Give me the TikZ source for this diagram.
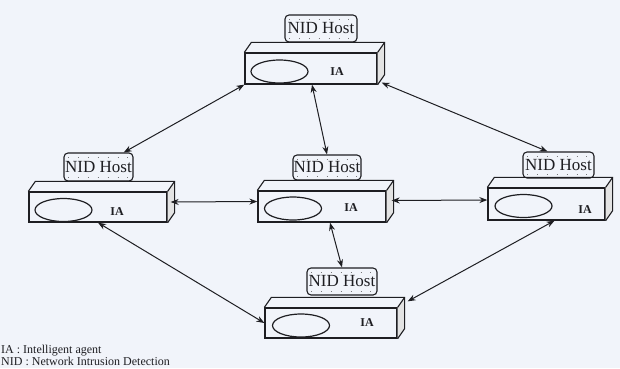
\documentclass[tikz,border=0pt]{standalone}
\usepackage{fontspec}
\setmainfont{Liberation Serif}
\usetikzlibrary{arrows.meta,shapes.geometric}

\definecolor{paper}{RGB}{241,244,250}
\definecolor{ink}{RGB}{30,30,34}

\tikzset{
  host/.style={draw=ink,line width=1.3pt,rectangle,inner sep=0pt},
  face/.style={draw=ink,line width=1.1pt},
  side/.style={fill=gray!22},
  oval/.style={draw=ink,line width=1.2pt,ellipse,minimum width=57pt,minimum height=23pt,inner sep=0pt},
  ia/.style={font=\fontsize{12}{12}\selectfont\bfseries,text=ink},
  nid/.style={draw=ink,line width=1.1pt,rounded corners=4pt,inner sep=0pt,
    font=\fontsize{17}{17}\selectfont,text=ink,
    path picture={
      \draw[ink!60,line width=0.9pt,dash pattern=on 0.9pt off 9pt]
        ([shift={(4pt,-4pt)}]path picture bounding box.north west) --
        ([shift={(-4pt,-4pt)}]path picture bounding box.north east);
      \draw[ink!60,line width=0.9pt,dash pattern=on 0.9pt off 9pt]
        ([shift={(4pt,4pt)}]path picture bounding box.south west) --
        ([shift={(-4pt,4pt)}]path picture bounding box.south east);}},
  link/.style={draw=ink,line width=1pt,{Stealth[length=8pt,width=6pt]}-{Stealth[length=8pt,width=6pt]}}
}

\begin{document}
\begin{tikzpicture}[x=1pt,y=-1pt]
\fill[paper] (0,0) rectangle (620,368);
\useasboundingbox (0,0) rectangle (620,368);

% top host
\node[host,minimum width=132pt,minimum height=31pt] (hostT) at (311,68.5) {};
\fill[side] (hostT.north east) -- ++(7,-10) -- ([shift={(7,-10)}]hostT.south east) -- (hostT.south east) -- cycle;
\draw[face] (hostT.north west) -- ++(7,-10) -| ([shift={(7,-10)}]hostT.south east) -- (hostT.south east);
\draw[face] (hostT.north east) -- ++(7,-10);
\node[oval] (ovT) at (279.5,71.5) {};
\node[ia] (iaT) at (337,72) {IA};
\node[nid,minimum width=72pt,minimum height=27pt] (lblT) at (321,28.5) {NID Host};

% left host
\node[host,minimum width=138pt,minimum height=30pt] (hostL) at (98,207) {};
\fill[side] (hostL.north east) -- ++(7,-10) -- ([shift={(7,-10)}]hostL.south east) -- (hostL.south east) -- cycle;
\draw[face] (hostL.north west) -- ++(7,-10) -| ([shift={(7,-10)}]hostL.south east) -- (hostL.south east);
\draw[face] (hostL.north east) -- ++(7,-10);
\node[oval] (ovL) at (63.5,210) {};
\node[ia] (iaL) at (117,212) {IA};
\node[nid,minimum width=69pt,minimum height=28pt] (lblL) at (98.5,167) {NID Host};

% center host
\node[host,minimum width=128pt,minimum height=31pt] (hostC) at (322,206.5) {};
\fill[side] (hostC.north east) -- ++(7,-10) -- ([shift={(7,-10)}]hostC.south east) -- (hostC.south east) -- cycle;
\draw[face] (hostC.north west) -- ++(7,-10) -| ([shift={(7,-10)}]hostC.south east) -- (hostC.south east);
\draw[face] (hostC.north east) -- ++(7,-10);
\node[oval] (ovC) at (293,208.5) {};
\node[ia] (iaC) at (351,208) {IA};
\node[nid,minimum width=68pt,minimum height=25pt] (lblC) at (327,167.5) {NID Host};

% right host
\node[host,minimum width=117pt,minimum height=32pt] (hostR) at (546.5,204) {};
\fill[side] (hostR.north east) -- ++(7,-10) -- ([shift={(7,-10)}]hostR.south east) -- (hostR.south east) -- cycle;
\draw[face] (hostR.north west) -- ++(7,-10) -| ([shift={(7,-10)}]hostR.south east) -- (hostR.south east);
\draw[face] (hostR.north east) -- ++(7,-10);
\node[oval] (ovR) at (523.5,206) {};
\node[ia] (iaR) at (585,210) {IA};
\node[nid,minimum width=71pt,minimum height=26pt] (lblR) at (558.5,165) {NID Host};

% bottom host
\node[host,minimum width=132pt,minimum height=30pt] (hostB) at (331,323) {};
\fill[side] (hostB.north east) -- ++(7,-10) -- ([shift={(7,-10)}]hostB.south east) -- (hostB.south east) -- cycle;
\draw[face] (hostB.north west) -- ++(7,-10) -| ([shift={(7,-10)}]hostB.south east) -- (hostB.south east);
\draw[face] (hostB.north east) -- ++(7,-10) coordinate (hostB-corner);
\node[ia] (iaB) at (367,323) {IA};
\node[oval] (ovB) at (301,325.5) {};
\node[nid,minimum width=70pt,minimum height=27pt] (lblB) at (342,281.5) {NID Host};

% links between the hosts
\draw[link] (hostT.south west) -- (lblL.30);
\draw[link] ([xshift=1pt]hostT.south) -- (lblC.north);
\draw[link] ([shift={(4,-2)}]hostT.south east) -- (lblR.129);
\draw[link] ([shift={(3,-5)}]hostL.east) -- ([yshift=5pt]hostC.west);
\draw[link] ([shift={(5,-6)}]hostC.east) -- ([yshift=4pt]hostR.west);
\draw[link] ([xshift=8pt]hostC.south) -- (lblB.north);
\draw[link] (hostL.south) -- (hostB.west);
\draw[link] ([xshift=8pt]hostR.south) -- ([shift={(3,4)}]hostB-corner);

\node[anchor=south west,align=left,inner sep=0pt,text=ink,font=\fontsize{12}{12}\selectfont] (legend) at (1,366)
  {IA : Intelligent agent\\NID : Network Intrusion Detection};
\end{tikzpicture}
\end{document}
